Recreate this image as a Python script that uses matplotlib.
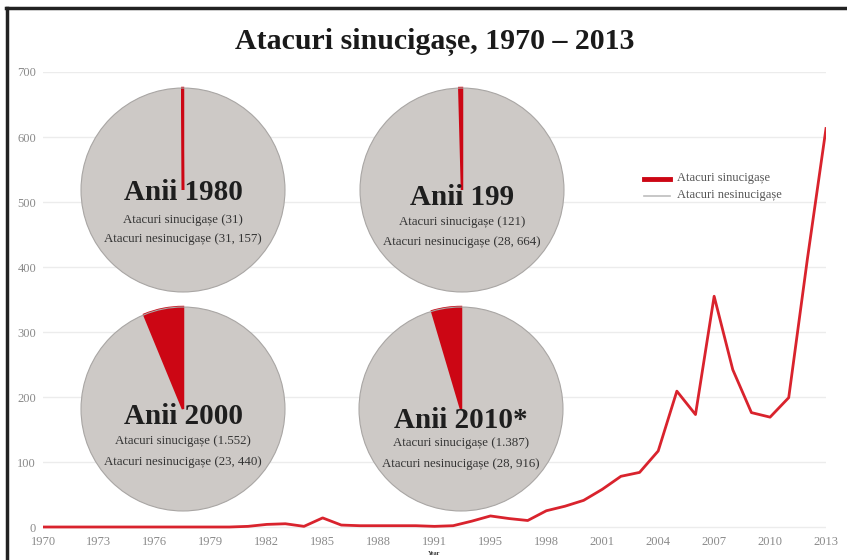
import matplotlib
matplotlib.use("Agg")
import matplotlib.pyplot as plt
from matplotlib.lines import Line2D

# ---------------- data ----------------
years = [str(y) for y in range(1970, 1993)] + [str(y) for y in range(1994, 2014)]
suicide_attacks = [0, 0, 0, 0, 0, 0, 0, 0, 0, 0, 0, 1,
                   4, 5, 1, 14, 3, 2, 2, 2, 2, 1, 2,
                   9, 17, 13, 10, 25, 32, 41, 58, 78, 84, 117,
                   209, 173, 355, 242, 176, 169, 199, 412, 613]
tick_labels = ["1970", "1973", "1976", "1979", "1982", "1985", "1988", "1991",
               "1995", "1998", "2001", "2004", "2007", "2010", "2013"]
y_ticks = [0, 100, 200, 300, 400, 500, 600, 700]

pie_titles = ["Anii 1980", "Anii 199", "Anii 2000", "Anii 2010*"]
pie_suicide = [31, 121, 1552, 1387]
pie_nonsuicide = [31157, 28664, 23440, 28916]
pie_suicide_txt = ["31", "121", "1.552", "1.387"]
pie_nonsuicide_txt = ["31, 157", "28, 664", "23, 440", "28, 916"]

title = "Atacuri sinucigașe, 1970 – 2013"
legend_labels = ["Atacuri sinucigașe", "Atacuri nesinucigașe"]

RED = "#d9232d"
PIE_RED = "#cc0614"
PIE_GRAY = "#cdc9c6"
SERIF = ["Liberation Serif", "DejaVu Serif"]

W, H = 847, 560
fig = plt.figure(figsize=(W / 100, H / 100), dpi=100)
fig.patch.set_facecolor("white")
plt.rcParams["font.family"] = SERIF


def fx(px):
    return px / W


def fy(py):
    return 1 - py / H


# ---------------- main line axes ----------------
x0, x1 = 43, 826
ytop, ybot = 72, 535
ax = fig.add_axes([fx(x0), fy(ybot), fx(x1) - fx(x0), fy(ytop) - fy(ybot)])
xs = list(range(len(years)))
ax.plot(xs, suicide_attacks, color=RED, lw=2.0, solid_joinstyle="round", zorder=3)
ax.set_xlim(0, len(years) - 1)
ax.set_ylim(-12.3, 700)
ax.set_yticks(y_ticks)
ax.set_yticklabels([str(v) for v in y_ticks])
tick_pos = [years.index(t) for t in tick_labels]
ax.set_xticks(tick_pos)
ax.set_xticklabels(tick_labels)
ax.tick_params(axis="both", length=0, labelsize=9, labelcolor="#8a8a8a")
ax.tick_params(axis="x", pad=1)
ax.tick_params(axis="y", pad=5)
for s in ax.spines.values():
    s.set_visible(False)
ax.grid(axis="y", color="#ececec", lw=1)
ax.set_axisbelow(True)
ax.set_xlabel("Year", fontsize=4.5, color="#333", fontweight="bold", labelpad=2)

# ---------------- title ----------------
fig.text(fx(435), fy(42), title, ha="center", va="center", fontsize=21.5,
         color="#1a1a1a", fontweight="bold")

# ---------------- legend ----------------
fig.add_artist(Line2D([fx(644), fx(670)], [fy(179), fy(179)], color=PIE_RED, lw=3.5,
                      transform=fig.transFigure))
fig.add_artist(Line2D([fx(644), fx(670)], [fy(196), fy(196)], color="#bdbdbd", lw=1.2,
                      transform=fig.transFigure))
fig.text(fx(677), fy(178), legend_labels[0], ha="left", va="center", fontsize=9, color="#555")
fig.text(fx(677), fy(195), legend_labels[1], ha="left", va="center", fontsize=9, color="#555")

# ---------------- pies ----------------
centers = [(183, 190), (462, 190), (183, 409), (461, 409)]
title_y = [193, 197, 417, 420]
line1_y = [220, 222, 441, 443]
line2_y = [239, 242, 462, 464]
R = 103
for i in range(4):
    cx, cy = centers[i]
    pax = fig.add_axes([fx(cx - R), fy(cy + R), 2 * R / W, 2 * R / H])
    wedges, _ = pax.pie([pie_suicide[i], pie_nonsuicide[i]], colors=[PIE_RED, PIE_GRAY],
                        startangle=90, counterclock=True, radius=1,
                        wedgeprops=dict(linewidth=0))
    wedges[0].set_edgecolor(PIE_RED)
    wedges[0].set_linewidth(1.8)
    wedges[0].set_zorder(5)
    circ = plt.Circle((0, 0), 1, fill=False, edgecolor="#a9a6a4", lw=0.8, zorder=6)
    pax.add_patch(circ)
    pax.set_xlim(-1.01, 1.01)
    pax.set_ylim(-1.01, 1.01)
    pax.set_aspect("auto")
    pax.axis("off")
    fig.text(fx(cx), fy(title_y[i]), pie_titles[i], ha="center", va="center",
             fontsize=21, fontweight="bold", color="#1e1e1e")
    fig.text(fx(cx), fy(line1_y[i]), f"Atacuri sinucigașe ({pie_suicide_txt[i]})",
             ha="center", va="center", fontsize=9.3, color="#333")
    fig.text(fx(cx), fy(line2_y[i]), f"Atacuri nesinucigașe ({pie_nonsuicide_txt[i]})",
             ha="center", va="center", fontsize=9.3, color="#333")

# ---------------- frame ----------------
fig.add_artist(Line2D([fx(6), 1.0], [fy(8), fy(8)], color="#222", lw=2.5,
                      transform=fig.transFigure))
fig.add_artist(Line2D([fx(7), fx(7)], [fy(8), 0.0], color="#222", lw=2.5,
                      transform=fig.transFigure))

fig.savefig("out.png", dpi=100)
